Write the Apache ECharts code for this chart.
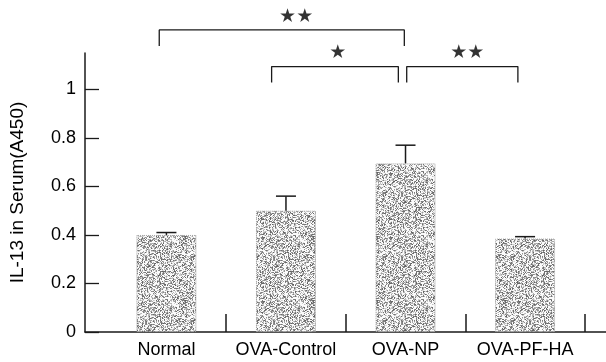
<!DOCTYPE html>
<html>
<head>
<meta charset="utf-8">
<script src="https://cdn.jsdelivr.net/npm/echarts@6/dist/echarts.min.js"></script>
<style>
html,body{margin:0;padding:0;background:#fff;}
#chart{width:606px;height:362px;}
</style>
</head>
<body>
<div id="chart"></div>
<script>
// ---- data ----
const categories = ['Normal', 'OVA-Control', 'OVA-NP', 'OVA-PF-HA'];
const catPositions = [1, 2, 3, 4];
const means = [0.40, 0.50, 0.695, 0.385];
const errors = [0.01, 0.06, 0.075, 0.008];
const yTicks = [0, 0.2, 0.4, 0.6, 0.8, 1];
const xBoundaries = [1.5, 2.5, 3.5, 4.5];
// significance brackets
const bracketFrom = [0.94, 1.88, 3.01];
const bracketTo = [2.99, 2.94, 3.94];
const bracketTop = [1.245, 1.094, 1.094];
const bracketLeg = [1.179, 1.028, 1.028];
const bracketMarks = ['★★', '★', '★★'];
const markX = [2.085, 2.433, 3.516];
const markY = [1.298, 1.150, 1.150];

// ---- stipple texture ----
function makeStipple() {
  const c = document.createElement('canvas');
  const n = 64;
  c.width = n; c.height = n;
  const ctx = c.getContext('2d');
  ctx.fillStyle = '#fbfbfb';
  ctx.fillRect(0, 0, n, n);
  for (let i = 0; i < n * n; i++) {
    let h = Math.imul(i + 1, 2654435761) >>> 0;
    h ^= h >>> 15; h = Math.imul(h, 2246822519) >>> 0; h ^= h >>> 13;
    h = Math.imul(h, 3266489917) >>> 0; h ^= h >>> 16;
    if (h % 100 < 14) {
      const g = 95 + ((h >>> 8) % 130);
      ctx.fillStyle = 'rgb(' + g + ',' + g + ',' + g + ')';
      ctx.fillRect(i % n, Math.floor(i / n), 1, 1);
    }
  }
  return c;
}
const stipple = makeStipple();

const font = "'Liberation Sans', Arial, Helvetica, sans-serif";
const ink = '#1a1a1a';

const barData = catPositions.map((x, i) => [x, means[i]]);
const errData = catPositions.map((x, i) => [x, means[i], means[i] + errors[i]]);

const bracketSeries = bracketFrom.map((f, i) => ({
  type: 'line',
  data: [[f, bracketLeg[i]], [f, bracketTop[i]], [bracketTo[i], bracketTop[i]], [bracketTo[i], bracketLeg[i]]],
  symbol: 'none',
  clip: false,
  silent: true,
  z: 5,
  lineStyle: { color: ink, width: 1.3 }
}));

const option = {
  animation: false,
  backgroundColor: '#fff',
  grid: { left: 83, right: 0, top: 53, bottom: 30, containLabel: false },
  xAxis: {
    type: 'value',
    min: 0.319,
    max: 4.677,
    splitLine: { show: false },
    axisLine: { show: true, lineStyle: { color: ink, width: 1.5 } },
    axisTick: { show: true, inside: true, length: 18, customValues: xBoundaries, lineStyle: { color: ink, width: 1.5 } },
    axisLabel: {
      show: true,
      customValues: catPositions,
      formatter: (v) => categories[catPositions.indexOf(Math.round(v))] || '',
      margin: 9,
      fontSize: 18,
      fontFamily: font,
      color: '#000'
    }
  },
  yAxis: {
    type: 'value',
    min: 0,
    max: 1.15,
    splitLine: { show: false },
    axisLine: { show: true, lineStyle: { color: ink, width: 1.5 } },
    axisTick: { show: true, inside: true, length: 14, customValues: yTicks, lineStyle: { color: ink, width: 1.3 } },
    axisLabel: { show: true, customValues: yTicks, margin: 9, fontSize: 18, fontFamily: font, color: '#000' },
    name: 'IL-13 in Serum(A450)',
    nameLocation: 'middle',
    nameGap: 58,
    nameTextStyle: { fontSize: 19, fontFamily: font, color: '#000' }
  },
  series: [
    {
      type: 'bar',
      data: barData,
      barWidth: 60,
      itemStyle: {
        color: { image: stipple, repeat: 'repeat' },
        borderColor: '#a0a0a0',
        borderWidth: 1,
        borderType: 'dotted'
      },
      z: 2
    },
    {
      type: 'custom',
      data: errData,
      z: 4,
      renderItem: function (params, api) {
        const x = api.value(0);
        const p0 = api.coord([x, api.value(1)]);
        const p1 = api.coord([x, api.value(2)]);
        const hw = 10;
        const style = { stroke: ink, lineWidth: 1.5 };
        return {
          type: 'group',
          children: [
            { type: 'line', shape: { x1: p0[0], y1: p0[1], x2: p1[0], y2: p1[1] }, style: style },
            { type: 'line', shape: { x1: p1[0] - hw, y1: p1[1], x2: p1[0] + hw, y2: p1[1] }, style: style }
          ]
        };
      }
    },
    ...bracketSeries,
    {
      type: 'scatter',
      data: markX.map((x, i) => [x, markY[i], bracketMarks[i]]),
      symbolSize: 0,
      clip: false,
      silent: true,
      z: 6,
      label: {
        show: true,
        position: 'inside',
        formatter: (p) => p.data[2],
        fontSize: 19,
        fontFamily: "'DejaVu Sans', sans-serif",
        color: '#000'
      }
    }
  ]
};

const chart = echarts.init(document.getElementById('chart'), null, { renderer: 'canvas' });
chart.setOption(option);
</script>
</body>
</html>
